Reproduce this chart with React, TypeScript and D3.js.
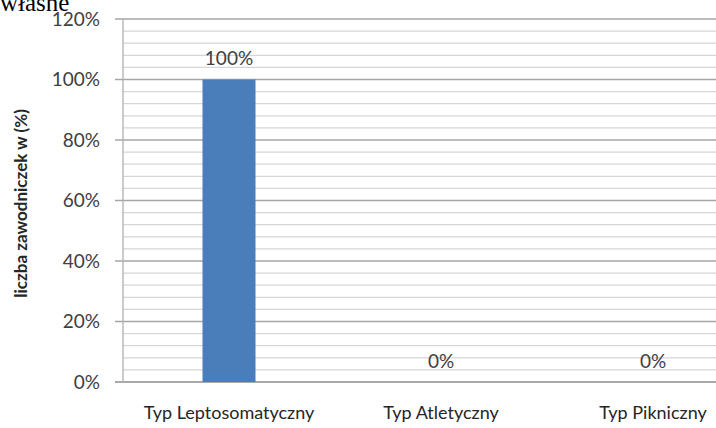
import React from "react";
import * as d3 from "d3";

const categories = ["Typ Leptosomatyczny", "Typ Atletyczny", "Typ Pikniczny"];
const values = [100, 0, 0];
const valueLabels = ["100%", "0%", "0%"];
const yTicks = [0, 20, 40, 60, 80, 100, 120];
const minorTicks = d3.range(0, 121, 4);

const W = 716;
const H = 428;
const FONT = "Lato, 'Open Sans', sans-serif";

export default function App() {
  const left = 123;
  const top = 19;
  const bottom = 382;
  const bandW = 212;

  const x = d3
    .scaleBand<string>()
    .domain(categories)
    .range([left, left + bandW * categories.length])
    .paddingInner(0.75)
    .paddingOuter(0.375);
  const y = d3.scaleLinear().domain([0, 120]).range([bottom, top]);
  const center = (c: string) => (x(c) ?? 0) + x.bandwidth() / 2;
  const right = left + bandW * categories.length;

  return (
    <svg
      width={W}
      height={H}
      style={{ position: "absolute", left: 0, top: 0, background: "#fff" }}
    >
      <text x={0} y={11} fontFamily="'Liberation Serif', serif" fontSize={25} fill="#000">
        własne
      </text>

      {/* minor gridlines */}
      {minorTicks
        .filter((t) => t % 20 !== 0)
        .map((t) => (
          <line key={"m" + t} x1={left} x2={right} y1={y(t)} y2={y(t)} stroke="#d6d6d6" strokeWidth={1.2} />
        ))}
      {/* major gridlines with ticks */}
      {yTicks.map((t) => (
        <g key={"g" + t}>
          <line x1={left - 8} x2={right} y1={y(t)} y2={y(t)} stroke={t === 0 ? "#8c8c8c" : "#a6a6a6"} strokeWidth={1.3} />
          <text
            x={left - 23}
            y={y(t)}
            dy="0.35em"
            textAnchor="end"
            fontFamily={FONT}
            fontSize={19}
            fill="#404040"
          >
            {t}%
          </text>
        </g>
      ))}
      {/* y axis line */}
      <line x1={left} x2={left} y1={top} y2={bottom} stroke="#b0b0b0" strokeWidth={1.3} />

      {/* bars */}
      {categories.map((c, i) => (
        <rect
          key={c}
          x={x(c)}
          y={y(values[i])}
          width={x.bandwidth()}
          height={bottom - y(values[i])}
          fill="#4a7ebb"
        />
      ))}

      {/* value labels */}
      {categories.map((c, i) => (
        <text
          key={"v" + c}
          x={center(c)}
          y={y(values[i]) - 21}
          dy="0.35em"
          textAnchor="middle"
          fontFamily={FONT}
          fontSize={19}
          fill="#404040"
        >
          {valueLabels[i]}
        </text>
      ))}

      {/* category labels */}
      {categories.map((c) => (
        <text
          key={"c" + c}
          x={center(c)}
          y={413}
          dy="0.35em"
          textAnchor="middle"
          fontFamily={FONT}
          fontSize={18}
          fill="#262626"
        >
          {c}
        </text>
      ))}

      {/* y axis title */}
      <text
        transform={`translate(21,${(top + bottom) / 2 + 3}) rotate(-90)`}
        dy="0.35em"
        textAnchor="middle"
        fontFamily={FONT}
        fontWeight="bold"
        fontSize={17}
        fill="#262626"
      >
        liczba zawodniczek w (%)
      </text>
    </svg>
  );
}
